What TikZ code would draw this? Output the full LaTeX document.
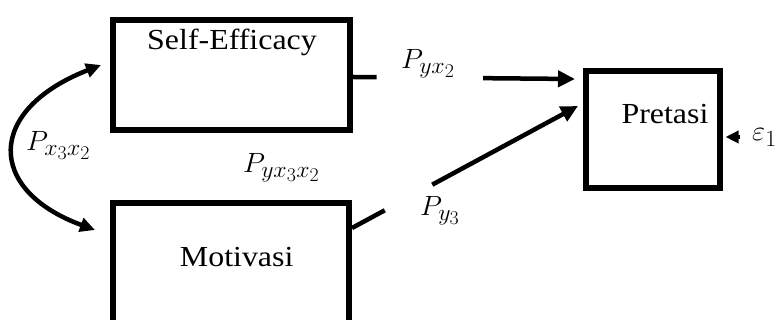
\documentclass[tikz,border=0pt]{standalone}
\usepackage[no-math]{fontspec}
\setmainfont{Liberation Serif}
\usepackage{graphicx}
\usetikzlibrary{arrows.meta,calc}
\newcommand\hsc[1]{\scalebox{1.12}[1.02]{#1}}
\newcommand\msc[1]{\scalebox{1.15}[1.12]{#1}}
\begin{document}
\begin{tikzpicture}[x=1pt,y=1pt,
  box/.style={draw,line width=6pt,inner sep=0pt},
  txt/.style={font=\fontsize{28.5}{34}\selectfont,inner sep=0pt,anchor=base},
  mth/.style={font=\fontsize{24.88}{30}\selectfont,inner sep=0pt,anchor=base west},
  conn/.style={line width=4.5pt},
  arr/.style={conn,-{Triangle[length=17pt,width=16pt]}},
  smallarr/.style={conn,-{Triangle[length=13pt,width=12pt]}},
  curvarr/.style={conn,{Triangle[length=15pt,width=14pt]}-{Triangle[length=15pt,width=14pt]}}]
\useasboundingbox (0,0) rectangle (781,320);
\clip (0,0) rectangle (781,320);
% boxes
\node[box,minimum width=237pt,minimum height=110pt] (se) at (231.5,245) {};
\node[box,minimum width=236pt,minimum height=200pt] (mo) at (231,17) {};
\node[box,minimum width=134pt,minimum height=117pt] (pr) at (653,190.5) {};
% box texts
\node[txt] (setxt) at (232,270) {\hsc{Self-Efficacy}};
\node[txt] (motxt) at (236.7,53.3) {\hsc{Motivasi}};
\node[txt] (prtxt) at (665,196.7) {\hsc{Pretasi}};
% labels
\node[mth] (l1) at (401,251) {\msc{$P_{yx_2}$}};
\node[mth] (l2) at (243,147) {\msc{$P_{yx_3x_2}$}};
\node[mth] (l3) at (26,169) {\msc{$P_{x_3x_2}$}};
\node[mth] (l4) at (420,104) {\msc{$P_{y_3}$}};
\node[mth] (eps) at (752,179) {\msc{$\varepsilon_1$}};
% connector coordinates
\coordinate (s1) at ([yshift=-2pt]se.east);
\coordinate (t1) at ([shift={(-8,50.5)}]pr.west);
\coordinate (s2) at ([yshift=75pt]mo.east);
\coordinate (t2) at ([shift={(-5,23.5)}]pr.west);
\coordinate (e0) at ([shift={(17,-7.5)}]pr.east);
\coordinate (t3) at ([shift={(2.5,-7.5)}]pr.east);
\coordinate (c1) at ([shift={(-9,10)}]se.west);
\coordinate (c2) at ([shift={(-15,73)}]mo.west);
% connectors
\draw[conn] (s1) -- ($(s1)!0.106!(t1)$);
\draw[arr] ($(s1)!0.586!(t1)$) -- (t1);
\draw[conn] (s2) -- ($(s2)!0.145!(t2)$);
\draw[arr] ($(s2)!0.355!(t2)$) -- (t2);
\draw[smallarr] (e0) -- (t3);
\draw[curvarr] (c2) .. controls (-14,130) and (-14,210) .. (c1);
\end{tikzpicture}
\end{document}
